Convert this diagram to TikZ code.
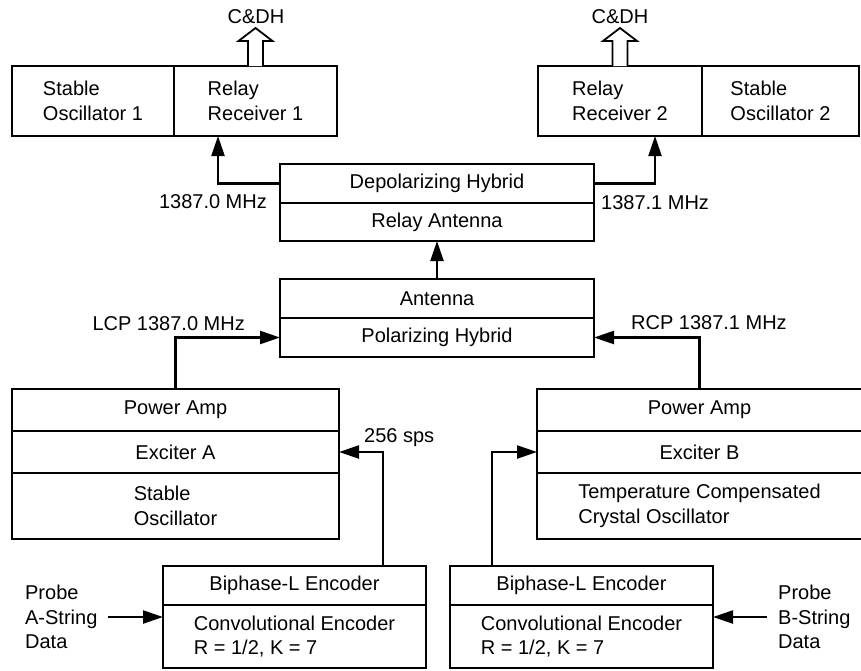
\documentclass[tikz,border=0pt]{standalone}
\usepackage{fontspec}
\setmainfont{Liberation Sans}
\usetikzlibrary{arrows.meta}
\begin{document}
\begin{tikzpicture}[x=1pt,y=-1pt, line width=2.3pt,
  cell/.style={draw, rectangle, inner sep=0pt, outer sep=0pt, align=left, font=\fontsize{20}{24.5}\selectfont},
  lbl/.style={inner sep=0pt, font=\fontsize{20}{24.5}\selectfont, align=left},
  arr/.style={-{Triangle[length=20pt,width=13pt]}},
  openarrow/.style={draw, line width=1.8pt, fill=white}]
\useasboundingbox (0,0) rectangle (861,670);

% top blocks
\node[cell, minimum width=162pt, minimum height=70pt] (so1) at (93,101) {Stable\\Oscillator 1};
\node[cell, minimum width=163pt, minimum height=70pt] (rr1) at (255.5,101) {Relay\\Receiver 1};
\node[cell, minimum width=164pt, minimum height=70pt] (rr2) at (620,101) {Relay\\Receiver 2};
\node[cell, minimum width=157pt, minimum height=70pt] (so2) at (780.5,101) {Stable\\Oscillator 2};

% C&DH
\node[lbl, anchor=base] (cdh1) at (256,23.5) {C\&DH};
\node[lbl, anchor=base] (cdh2) at (620,23.5) {C\&DH};
\draw[openarrow] ([xshift=-7.5pt]rr1.north) -- ++(0,-25) -- ++(-9.5,0) -- ++(17,-13) -- ++(17,13) -- ++(-9.5,0) -- ++(0,25);
\draw[openarrow] ([xshift=-7.5pt]rr2.north) -- ++(0,-25) -- ++(-9.5,0) -- ++(17,-13) -- ++(17,13) -- ++(-9.5,0) -- ++(0,25);

% relay antenna
\node[cell, minimum width=314pt, minimum height=39pt] (depol) at (437,183.5) {Depolarizing Hybrid};
\node[cell, minimum width=314pt, minimum height=38pt] (relay) at (437,222) {Relay Antenna};

% antenna
\node[cell, minimum width=314pt, minimum height=39pt] (ant) at (437,298.5) {Antenna};
\node[cell, minimum width=314pt, minimum height=39pt] (pol) at (437,337.5) {Polarizing Hybrid};

% power amp blocks
\node[cell, minimum width=327pt, minimum height=42pt] (pa1) at (175.5,410) {Power Amp};
\node[cell, minimum width=327pt, minimum height=42pt] (exA) at (175.5,452) {Exciter A};
\node[cell, minimum width=327pt, minimum height=66pt] (sto) at (175.5,506) {Stable\\Oscillator};

\node[cell, minimum width=325pt, minimum height=42pt] (pa2) at (699.5,410) {Power Amp};
\node[cell, minimum width=325pt, minimum height=42pt] (exB) at (699.5,452) {Exciter B};
\node[cell, minimum width=325pt, minimum height=66pt] (tcx) at (699.5,506) {Temperature Compensated\\Crystal Oscillator};

% encoders
\node[cell, minimum width=263pt, minimum height=39pt] (bi1) at (294.5,585.5) {Biphase-L Encoder};
\node[cell, minimum width=263pt, minimum height=63pt] (conv1) at (294.5,636.5) {Convolutional Encoder\\R = 1/2, K = 7};
\node[cell, minimum width=263pt, minimum height=39pt] (bi2) at (581.5,585.5) {Biphase-L Encoder};
\node[cell, minimum width=263pt, minimum height=63pt] (conv2) at (581.5,636.5) {Convolutional Encoder\\R = 1/2, K = 7};

% probes
\node[lbl, anchor=west] (probeA) at (24,617) {Probe\\A-String\\Data};
\node[lbl, anchor=west] (probeB) at (777,617) {Probe\\B-String\\Data};

% labels
\node[lbl, anchor=base east] (l1) at (268,208) {1387.0 MHz};
\node[lbl, anchor=base west] (l2) at (600,209) {1387.1 MHz};
\node[lbl, anchor=base east] (l3) at (246,330) {LCP 1387.0 MHz};
\node[lbl, anchor=base west] (l4) at (630,329) {RCP 1387.1 MHz};
\node[lbl, anchor=base west] (l5) at (363,442) {256 sps};

% connectors
\draw[arr] (depol.west) -| ([xshift=-37.5pt]rr1.south);
\draw[arr] (depol.east) -| ([xshift=35pt]rr2.south);
\draw[arr] (ant.north) -- (relay.south);
\draw[arr] (pa1.north) |- (pol.west);
\draw[arr] (pa2.north) |- (pol.east);
\draw[arr] ([xshift=88.5pt]bi1.north) |- (exA.east);
\draw[arr] ([xshift=-89.5pt]bi2.north) |- (exB.west);
\draw[arr] ([xshift=9pt]probeA.east) -- (probeA.east -| conv1.west);
\draw[arr] ([xshift=-10pt]probeB.west) -- (probeB.west -| conv2.east);
\end{tikzpicture}
\end{document}
